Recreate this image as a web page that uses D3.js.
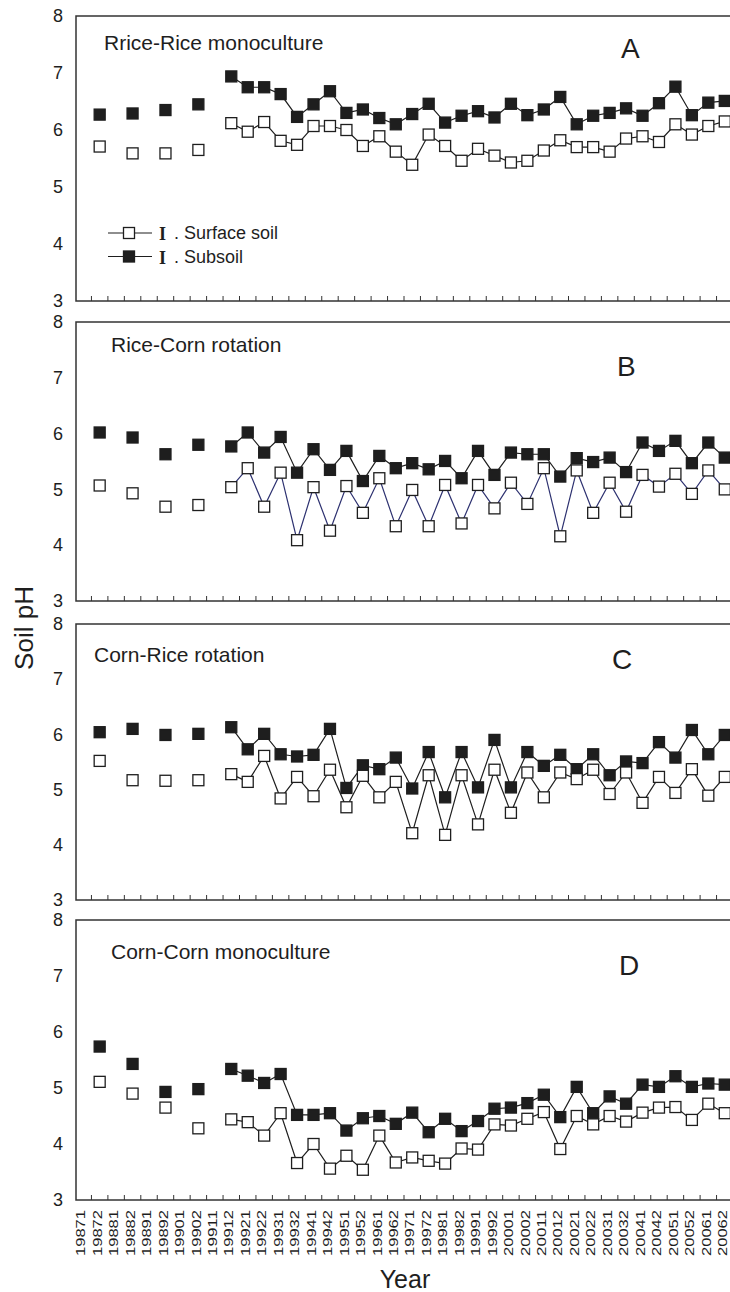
<!DOCTYPE html>
<html>
<head>
<meta charset="utf-8">
<script src="https://cdn.jsdelivr.net/npm/d3@7"></script>
<style>
body { margin: 0; background: #fff; }
svg { display: block; font-family: Arial, "Liberation Sans", sans-serif; }
</style>
</head>
<body>
<svg id="chart" width="730" height="1292"></svg>
<script>
// x axis categories: year + sampling (1 / 2)
var categories = ["19871","19872","19881","19882","19891","19892","19901","19902","19911","19912",
  "19921","19922","19931","19932","19941","19942","19951","19952","19961","19962",
  "19971","19972","19981","19982","19991","19992","20001","20002","20011","20012",
  "20021","20022","20031","20032","20041","20042","20051","20052","20061","20062"];

// categories that have a measurement (first four are single points, then a connected run)
var sampled = ["19872","19882","19892","19902","19912","19921","19922","19931","19932","19941",
  "19942","19951","19952","19961","19962","19971","19972","19981","19982","19991",
  "19992","20001","20002","20011","20012","20021","20022","20031","20032","20041",
  "20042","20051","20052","20061","20062"];
var runStart = "19912";

var yTicks = [3, 4, 5, 6, 7, 8];
var panelTitles = ["Rrice-Rice monoculture", "Rice-Corn rotation", "Corn-Rice rotation", "Corn-Corn monoculture"];
var panelLetters = ["A", "B", "C", "D"];
var legendLabels = [". Surface soil", ". Subsoil"];

// soil pH, surface soil (open squares) and subsoil (filled squares)
var surfaceA = [5.71,5.59,5.59,5.65,6.12,5.97,6.14,5.81,5.74,6.07,6.07,6.00,5.72,5.89,5.62,5.39,5.92,5.72,
  5.46,5.67,5.55,5.43,5.46,5.64,5.82,5.70,5.70,5.62,5.85,5.89,5.79,6.10,5.92,6.07,6.15];
var subsoilA = [6.27,6.29,6.35,6.45,6.94,6.75,6.75,6.63,6.23,6.45,6.68,6.30,6.36,6.21,6.10,6.28,6.46,6.13,
  6.25,6.33,6.22,6.46,6.26,6.36,6.58,6.10,6.25,6.30,6.38,6.25,6.47,6.76,6.26,6.48,6.51];
var surfaceB = [5.07,4.93,4.69,4.72,5.04,5.38,4.69,5.30,4.09,5.04,4.26,5.06,4.58,5.20,4.34,4.99,4.34,5.08,
  4.39,5.08,4.66,5.12,4.74,5.38,4.16,5.34,4.58,5.12,4.60,5.26,5.05,5.28,4.92,5.34,5.00];
var subsoilB = [6.02,5.93,5.63,5.80,5.77,6.02,5.66,5.94,5.30,5.72,5.35,5.69,5.15,5.60,5.38,5.47,5.36,5.51,
  5.20,5.69,5.26,5.66,5.63,5.63,5.23,5.56,5.49,5.57,5.31,5.84,5.69,5.87,5.47,5.84,5.57];
var surfaceC = [5.52,5.17,5.16,5.17,5.28,5.14,5.61,4.84,5.23,4.88,5.36,4.68,5.25,4.86,5.14,4.21,5.26,4.18,
  5.26,4.37,5.36,4.58,5.31,4.86,5.31,5.19,5.36,4.92,5.31,4.76,5.23,4.94,5.37,4.89,5.23];
var subsoilC = [6.04,6.10,5.99,6.01,6.13,5.73,6.01,5.64,5.60,5.63,6.10,5.03,5.44,5.37,5.58,5.02,5.68,4.86,
  5.68,5.04,5.90,5.04,5.68,5.43,5.63,5.37,5.64,5.26,5.51,5.48,5.86,5.58,6.08,5.64,5.99];
var surfaceD = [5.11,4.90,4.65,4.28,4.44,4.39,4.15,4.55,3.66,4.00,3.56,3.79,3.54,4.15,3.67,3.76,3.70,3.65,
  3.92,3.90,4.35,4.33,4.45,4.57,3.91,4.50,4.35,4.50,4.40,4.56,4.65,4.66,4.43,4.72,4.55];
var subsoilD = [5.74,5.43,4.93,4.98,5.34,5.22,5.09,5.25,4.52,4.52,4.55,4.24,4.46,4.50,4.36,4.56,4.21,4.45,
  4.23,4.41,4.63,4.65,4.73,4.88,4.48,5.02,4.55,4.85,4.72,5.06,5.02,5.21,5.02,5.08,5.06];

var surfaceAll = [surfaceA, surfaceB, surfaceC, surfaceD];
var subsoilAll = [subsoilA, subsoilB, subsoilC, subsoilD];

// layout
var svg = d3.select("#chart");
var left = 76, right = 733;
var panelTop = [16, 322, 624, 920];
var panelBottom = [301, 601, 900, 1200];
var titlePos = [[104, 50], [111, 352], [94, 662], [111, 959]];
var letterPos = [[621, 58], [617, 376], [612, 669], [619, 975]];
var markerSize = 11;
var ink = "#1e1e1e";
var surfaceLine = ["#1e1e1e", "#2d3170", "#1e1e1e", "#1e1e1e"];

var x = d3.scaleBand().domain(categories).range([left - 1, right]);
function cx(c) { return x(c) + x.bandwidth() / 2; }
var runIndex = sampled.indexOf(runStart);

function drawSeries(g, y, values, filled, lineColor) {
  var pts = sampled.map(function(c, i) { return { cat: c, v: values[i], i: i }; });
  var line = d3.line()
    .x(function(d) { return cx(d.cat); })
    .y(function(d) { return y(d.v); });
  g.append("path")
    .datum(pts.filter(function(d) { return d.i >= runIndex; }))
    .attr("d", line)
    .attr("fill", "none")
    .attr("stroke", lineColor)
    .attr("stroke-width", 1.2);
  g.selectAll(null)
    .data(pts)
    .enter()
    .append("rect")
    .attr("x", function(d) { return cx(d.cat) - markerSize / 2; })
    .attr("y", function(d) { return y(d.v) - markerSize / 2; })
    .attr("width", markerSize)
    .attr("height", markerSize)
    .attr("fill", filled ? ink : "#fff")
    .attr("stroke", ink)
    .attr("stroke-width", 1.3);
}

panelTitles.forEach(function(title, p) {
  var g = svg.append("g");
  var y = d3.scaleLinear().domain([3, 8]).range([panelBottom[p], panelTop[p]]);

  // frame (right edge falls outside the picture)
  g.append("rect")
    .attr("x", left)
    .attr("y", panelTop[p])
    .attr("width", right + 2 - left)
    .attr("height", panelBottom[p] - panelTop[p])
    .attr("fill", "none")
    .attr("stroke", "#333")
    .attr("stroke-width", 1.5);

  // y axis labels
  var yAxis = g.append("g")
    .attr("transform", "translate(" + left + ",0)")
    .call(d3.axisLeft(y).tickValues(yTicks).tickSize(0).tickPadding(13).tickFormat(d3.format("d")));
  yAxis.select(".domain").remove();
  yAxis.selectAll("text").attr("font-size", 18).attr("fill", ink).attr("font-family", null);

  // small inward ticks between categories
  g.selectAll(null)
    .data(categories.slice(1))
    .enter()
    .append("line")
    .attr("x1", function(c) { return x(c); })
    .attr("x2", function(c) { return x(c); })
    .attr("y1", panelBottom[p])
    .attr("y2", panelBottom[p] - 5)
    .attr("stroke", "#333")
    .attr("stroke-width", 1);

  drawSeries(g, y, subsoilAll[p], true, ink);
  drawSeries(g, y, surfaceAll[p], false, surfaceLine[p]);

  g.append("text")
    .attr("x", titlePos[p][0])
    .attr("y", titlePos[p][1])
    .attr("font-size", 21)
    .attr("fill", ink)
    .text(title);

  g.append("text")
    .attr("x", letterPos[p][0])
    .attr("y", letterPos[p][1])
    .attr("font-size", 28)
    .attr("fill", ink)
    .text(panelLetters[p]);

  if (p === 3) {
    var xAxis = g.append("g")
      .attr("transform", "translate(0," + panelBottom[p] + ")")
      .call(d3.axisBottom(x).tickSize(0));
    xAxis.select(".domain").remove();
    xAxis.selectAll("text")
      .attr("transform", "rotate(-90)")
      .attr("x", -10)
      .attr("y", 0)
      .attr("dy", "0.17em")
      .attr("text-anchor", "end")
      .attr("font-size", 13)
      .attr("font-family", null)
      .attr("fill", ink)
      .attr("textLength", 46)
      .attr("lengthAdjust", "spacingAndGlyphs");
  }
});

// legend inside panel A
var legendY = [233, 256.5];
legendLabels.forEach(function(label, i) {
  var lg = svg.append("g").attr("transform", "translate(0," + legendY[i] + ")");
  lg.append("line")
    .attr("x1", 108).attr("x2", 152)
    .attr("stroke", ink).attr("stroke-width", 1.2);
  lg.append("rect")
    .attr("x", 129 - markerSize / 2).attr("y", -markerSize / 2)
    .attr("width", markerSize).attr("height", markerSize)
    .attr("fill", i === 0 ? "#fff" : ink)
    .attr("stroke", ink).attr("stroke-width", 1.3);
  lg.append("text")
    .attr("x", 159).attr("y", 7)
    .attr("font-family", "'Liberation Serif', 'DejaVu Serif', serif")
    .attr("font-weight", "bold")
    .attr("font-size", 18)
    .attr("fill", ink)
    .text("I");
  lg.append("text")
    .attr("x", 174).attr("y", 6)
    .attr("font-size", 18)
    .attr("fill", ink)
    .text(label);
});

// axis titles
svg.append("text")
  .attr("transform", "translate(33,628) rotate(-90)")
  .attr("text-anchor", "middle")
  .attr("font-size", 26)
  .attr("fill", ink)
  .text("Soil pH");

svg.append("text")
  .attr("x", 405)
  .attr("y", 1288)
  .attr("text-anchor", "middle")
  .attr("font-size", 25)
  .attr("fill", ink)
  .text("Year");
</script>
</body>
</html>
